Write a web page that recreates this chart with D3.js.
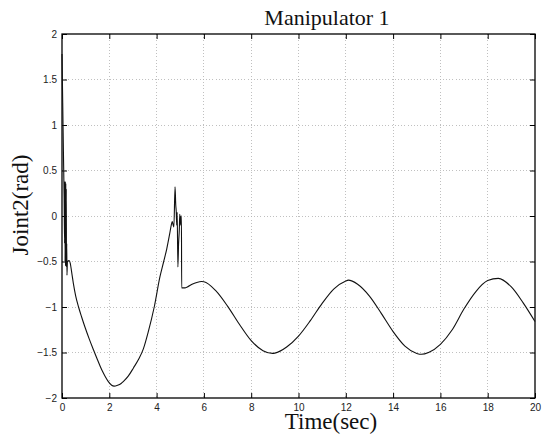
<!DOCTYPE html>
<html>
<head>
<meta charset="utf-8">
<script src="https://cdn.jsdelivr.net/npm/d3@7"></script>
<style>
  html, body { margin: 0; padding: 0; background: #fff; }
  svg { display: block; }
</style>
</head>
<body>
<svg id="chart" width="547" height="437"></svg>
<script>
const titleText = "Manipulator 1";
const xLabel = "Time(sec)";
const yLabel = "Joint2(rad)";
const xTicks = [0, 2, 4, 6, 8, 10, 12, 14, 16, 18, 20];
const yTicks = [-2, -1.5, -1, -0.5, 0, 0.5, 1, 1.5, 2];

const timeSec = [
  0, 0.03, 0.06, 0.09, 0.11, 0.12, 0.13, 0.14, 0.15, 0.16, 0.17, 0.18, 0.19, 0.2, 0.21, 0.23,
  0.3, 0.35, 0.41, 0.48, 0.58, 0.7, 0.83, 0.97, 1.15, 1.33, 1.5, 1.68, 1.82, 1.96, 2.1, 2.2,
  2.35, 2.5, 2.59, 2.8, 3.02, 3.25, 3.44, 3.65, 3.9, 4.14, 4.3, 4.43, 4.55, 4.62, 4.66, 4.7,
  4.73, 4.78, 4.81, 4.83, 4.85, 4.87, 4.9, 4.93, 4.96, 4.98, 5.0, 5.03, 5.05, 5.06, 5.2, 5.3,
  5.5, 5.7, 5.9, 6.0, 6.5, 7.0, 7.5, 8.0, 8.5, 8.9, 9.0, 9.5, 10.0, 10.5, 11.0, 11.5, 12.0,
  12.1, 12.5, 13.0, 13.5, 14.0, 14.5, 15.0, 15.2, 15.5, 16.0, 16.5, 17.0, 17.5, 18.0, 18.45,
  19.0, 19.5, 20.0
];
const joint2 = [
  1.78, 1.25, 0.7, 0.2, -0.3, 0.38, -0.5, 0.38, -0.55, 0.36, -0.52, 0.3, -0.56, -0.3, -0.65, -0.5,
  -0.49, -0.52, -0.62, -0.74, -0.88, -1.0, -1.11, -1.22, -1.35, -1.47, -1.58, -1.69, -1.76, -1.82, -1.86, -1.87,
  -1.86, -1.84, -1.82, -1.76, -1.67, -1.57, -1.46, -1.27, -1.0, -0.67, -0.5, -0.36, -0.2, -0.1, -0.06, -0.1,
  -0.12, 0.32, 0.12, 0.05, -0.1, 0.04, -0.56, -0.3, -0.15, 0.02, -0.1, 0.0, 0.0, -0.79, -0.79, -0.78,
  -0.75, -0.73, -0.72, -0.722, -0.82, -0.99, -1.19, -1.37, -1.48, -1.51, -1.507, -1.44, -1.32, -1.15, -0.96, -0.8, -0.715,
  -0.705, -0.75, -0.88, -1.07, -1.27, -1.43, -1.51, -1.52, -1.5, -1.41, -1.25, -1.02, -0.83, -0.71, -0.685,
  -0.78, -0.955, -1.16
];

const W = 547, H = 437;
const plot = { left: 62, right: 535, top: 34, bottom: 398 };

const svg = d3.select("#chart");
const x = d3.scaleLinear().domain([0, 20]).range([plot.left, plot.right]);
const y = d3.scaleLinear().domain([-2, 2]).range([plot.bottom, plot.top]);

const fmt = v => (v < 0 ? "\u2212" + Math.abs(v) : String(v));

// grid
const grid = svg.append("g").attr("stroke", "#b0b0b0").attr("stroke-width", 0.8)
  .attr("stroke-dasharray", "1,2.2").attr("shape-rendering", "crispEdges");
grid.selectAll("line.gx").data(xTicks.slice(1, -1)).join("line")
  .attr("x1", d => x(d)).attr("x2", d => x(d)).attr("y1", plot.top).attr("y2", plot.bottom);
grid.selectAll("line.gy").data(yTicks.slice(1, -1)).join("line")
  .attr("y1", d => y(d)).attr("y2", d => y(d)).attr("x1", plot.left).attr("x2", plot.right);

// axes (MATLAB style: inward ticks all sides)
const tickLen = 5;
const axB = d3.axisBottom(x).tickValues(xTicks).tickSize(-tickLen).tickPadding(6).tickFormat(fmt);
const axT = d3.axisTop(x).tickValues(xTicks).tickSize(-tickLen).tickFormat("");
const axL = d3.axisLeft(y).tickValues(yTicks).tickSize(-tickLen).tickPadding(5).tickFormat(fmt);
const axR = d3.axisRight(y).tickValues(yTicks).tickSize(-tickLen).tickFormat("");

function style(g) {
  g.selectAll(".domain").remove();
  g.selectAll(".tick line").attr("stroke", "#000").attr("stroke-width", 1);
  g.selectAll(".tick text").attr("font-family", "Liberation Sans, Arial, sans-serif")
    .attr("font-size", "10px").attr("fill", "#222");
}
svg.append("g").attr("transform", `translate(0,${plot.bottom})`).call(axB).call(style);
svg.append("g").attr("transform", `translate(0,${plot.top})`).call(axT).call(style);
svg.append("g").attr("transform", `translate(${plot.left},0)`).call(axL).call(style);
svg.append("g").attr("transform", `translate(${plot.right},0)`).call(axR).call(style);

// frame
svg.append("rect").attr("x", plot.left).attr("y", plot.top)
  .attr("width", plot.right - plot.left).attr("height", plot.bottom - plot.top)
  .attr("fill", "none").attr("stroke", "#000").attr("stroke-width", 1.3);

// line
const pts = timeSec.map((t, i) => [t, joint2[i]]);
svg.append("path").datum(pts)
  .attr("fill", "none").attr("stroke", "#111").attr("stroke-width", 1.1)
  .attr("stroke-linejoin", "round")
  .attr("d", d3.line().x(d => x(d[0])).y(d => y(d[1])).curve(d3.curveMonotoneX));

// texts
const serif = "Liberation Serif, Times New Roman, serif";
svg.append("text").attr("x", 327).attr("y", 25).attr("text-anchor", "middle")
  .attr("font-family", serif).attr("font-size", "22px").attr("fill", "#111").text(titleText);
svg.append("text").attr("x", 331).attr("y", 429).attr("text-anchor", "middle")
  .attr("font-family", serif).attr("font-size", "23px").attr("fill", "#111").text(xLabel);
svg.append("text").attr("transform", "translate(28,205) rotate(-90)").attr("text-anchor", "middle")
  .attr("font-family", serif).attr("font-size", "23px").attr("fill", "#111").text(yLabel);
</script>
</body>
</html>
